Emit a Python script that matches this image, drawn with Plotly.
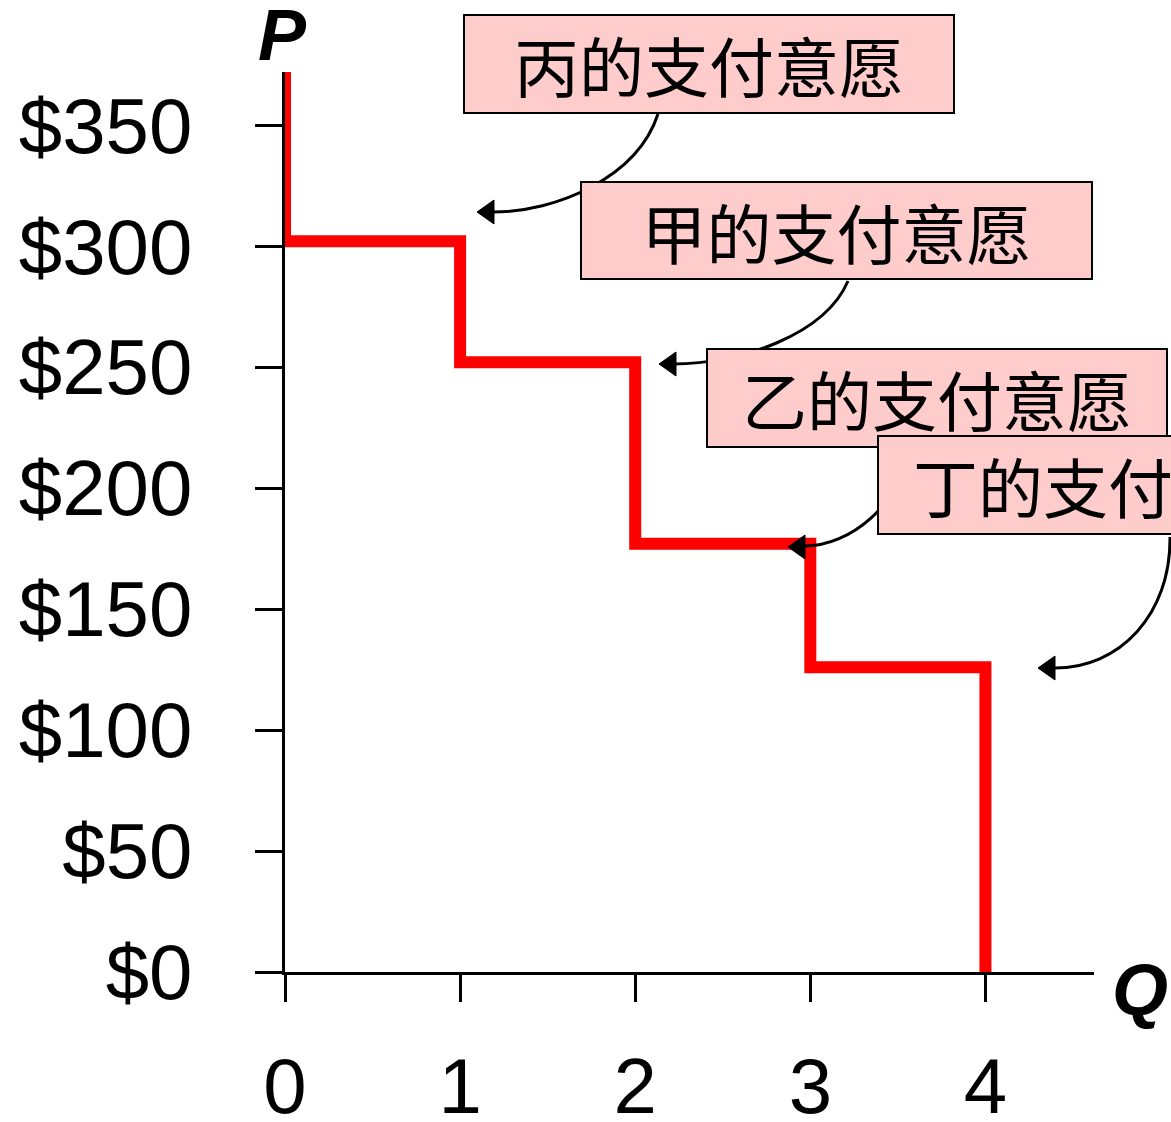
import plotly.graph_objects as go

# ---- data ----
quantity = [0, 1, 2, 3, 4]
top_price = 372
wtp = [302, 252, 177, 126]          # willingness to pay of 丙, 甲, 乙, 丁
buyers = ["丙的支付意愿", "甲的支付意愿", "乙的支付意愿", "丁的支付意愿"]
y_ticks = [0, 50, 100, 150, 200, 250, 300, 350]
y_ticktext = ["$0", "$50", "$100", "$150", "$200", "$250", "$300", "$350"]
x_ticks = [0, 1, 2, 3, 4]
x_ticktext = ["0", "1", "2", "3", "4"]

# step demand curve built from the data
xs, ys = [quantity[0]], [top_price]
for i, p in enumerate(wtp):
    xs += [quantity[i], quantity[i + 1]]
    ys += [p, p]
xs.append(quantity[-1])
ys.append(0)

# ---- layout geometry ----
W, H = 1171, 1122
ML, MR, MT, MB = 285, 77, 72, 150


def px(x):
    return (x - ML) / (W - ML - MR)


def py(y):
    return (H - MB - y) / (H - MT - MB)


fig = go.Figure()
fig.add_trace(go.Scatter(
    x=xs, y=ys, mode="lines",
    line=dict(color="#FF0000", width=12),
    cliponaxis=False, hoverinfo="skip", showlegend=False,
))

tick_font = dict(family="Liberation Sans, Arial, sans-serif", size=78, color="black")

fig.update_layout(
    width=W, height=H, autosize=False,
    margin=dict(l=ML, r=MR, t=MT, b=MB, pad=0),
    paper_bgcolor="white", plot_bgcolor="white",
    showlegend=False,
    xaxis=dict(
        range=[0, 4.62], tickvals=x_ticks, ticktext=x_ticktext,
        showline=True, linecolor="black", linewidth=3,
        ticks="outside", ticklen=27, tickwidth=2.5, tickcolor="black",
        showgrid=False, zeroline=False, tickfont=tick_font,
        ticklabelstandoff=17, automargin=False,
    ),
    yaxis=dict(
        range=[0, top_price], tickvals=y_ticks, ticktext=y_ticktext,
        showline=True, linecolor="black", linewidth=3,
        ticks="outside", ticklen=27, tickwidth=2.5, tickcolor="black",
        showgrid=False, zeroline=False, tickfont=tick_font,
        ticklabelstandoff=47, automargin=False,
    ),
)

# ---- curved connector arrows (pixel geometry -> paper coords) ----
curves = [
    [(658, 114), (637, 178), (556, 212), (493, 212)],
    [(848, 281), (825, 335), (740, 364), (673, 364)],
    [(910, 448), (900, 505), (850, 546), (805, 546)],
    [(1170, 537), (1171, 614), (1120, 669), (1053, 668)],
]
tips = [(477, 212), (659, 364), (788, 547), (1038, 668)]

shapes = []
for c in curves:
    (x0, y0), (x1, y1), (x2, y2), (x3, y3) = c
    path = (f"M {px(x0)},{py(y0)} C {px(x1)},{py(y1)} {px(x2)},{py(y2)} "
            f"{px(x3)},{py(y3)}")
    shapes.append(dict(type="path", xref="paper", yref="paper", path=path,
                       line=dict(color="black", width=3), layer="above"))
for tx, ty in tips:
    path = (f"M {px(tx)},{py(ty)} L {px(tx + 17)},{py(ty - 12)} "
            f"L {px(tx + 17)},{py(ty + 12)} Z")
    shapes.append(dict(type="path", xref="paper", yref="paper", path=path,
                       fillcolor="black", line=dict(color="black", width=1),
                       layer="above"))
fig.update_layout(shapes=shapes)

# ---- label boxes ----
boxes = [  # centre x, centre y, width, height (pixels)
    (709, 64, 492, 100),
    (836.5, 230.5, 513, 99),
    (937, 398, 462, 100),
    (1108, 484.5, 462, 100),
]
cjk_font = dict(family="Noto Sans CJK SC, Noto Sans CJK TC, sans-serif", size=65, color="black")
for text, (cx, cy, bw, bh) in zip(buyers, boxes):
    fig.add_annotation(
        x=px(cx), y=py(cy), xref="paper", yref="paper",
        xanchor="center", yanchor="middle",
        text=text, showarrow=False, font=cjk_font,
        bgcolor="#FFCCCC", bordercolor="black", borderwidth=2, borderpad=0,
        width=bw - 4, height=bh - 4, align="center", valign="middle",
    )

axis_font = dict(family="Liberation Sans, Arial, sans-serif", size=72, color="black")
fig.add_annotation(x=px(282), y=py(-7), xref="paper", yref="paper",
                   xanchor="center", yanchor="top",
                   text="<b><i>P</i></b>", showarrow=False, font=axis_font)
fig.add_annotation(x=px(1170), y=py(990), xref="paper", yref="paper",
                   xanchor="right", yanchor="middle",
                   text="<b><i>Q</i></b>", showarrow=False, font=axis_font)

fig.write_html(
    "out.html",
    config={"displayModeBar": False},
    post_script="document.body.style.margin='0px';"
                "document.body.style.overflow='hidden';",
)
